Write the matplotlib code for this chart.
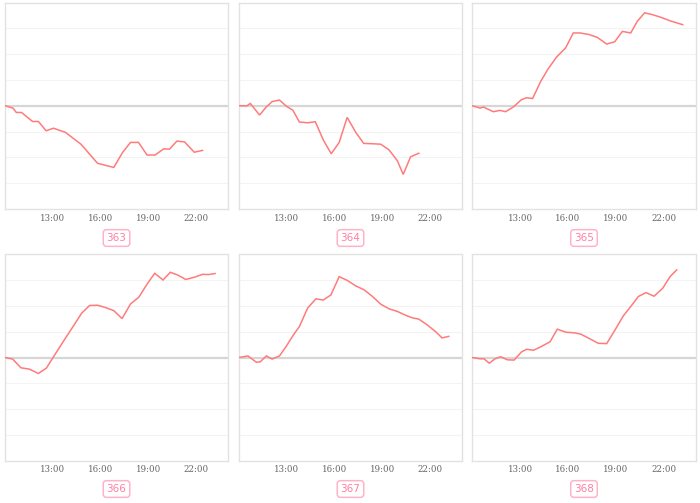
import matplotlib
matplotlib.use("Agg")
import matplotlib.pyplot as plt

# ---------------- data ----------------
panel_names = ["363", "364", "365", "366", "367", "368"]
tick_hours = [13, 16, 19, 22]
tick_labels = ["13:00", "16:00", "19:00", "22:00"]

t_363 = [10.0, 10.5, 10.71, 11.04, 11.73, 12.10, 12.58, 13.04, 13.79, 14.77, 15.81, 16.83,
         17.38, 17.88, 18.38, 18.92, 19.42, 19.96, 20.33, 20.79, 21.27, 21.88, 22.40]
v_363 = [0, -0.09, -0.26, -0.26, -0.61, -0.61, -0.97, -0.87, -1.03, -1.49, -2.23, -2.39,
         -1.81, -1.42, -1.42, -1.91, -1.91, -1.67, -1.68, -1.37, -1.40, -1.80, -1.73]

t_364 = [10.0, 10.5, 10.71, 11.29, 11.71, 12.08, 12.54, 13.0, 13.38, 13.79, 14.31, 14.79,
         15.29, 15.79, 16.29, 16.79, 17.33, 17.83, 18.33, 18.90, 19.42, 19.94, 20.31, 20.77, 21.29]
v_364 = [0, 0, 0.09, -0.36, -0.05, 0.16, 0.22, -0.03, -0.17, -0.63, -0.66, -0.62,
         -1.32, -1.86, -1.42, -0.45, -1.03, -1.46, -1.47, -1.49, -1.71, -2.13, -2.66, -1.98, -1.84]

t_365 = [10.0, 10.5, 10.71, 11.33, 11.75, 12.10, 12.58, 13.08, 13.40, 13.79, 14.29, 14.75,
         15.29, 15.85, 16.33, 16.75, 17.31, 17.83, 18.42, 18.92, 19.40, 19.92, 20.33, 20.79,
         21.27, 21.79, 22.38, 23.17]
v_365 = [0, -0.09, -0.05, -0.23, -0.18, -0.23, -0.05, 0.23, 0.31, 0.28, 0.94, 1.42,
         1.89, 2.24, 2.82, 2.82, 2.76, 2.65, 2.39, 2.48, 2.88, 2.82, 3.27, 3.60,
         3.53, 3.43, 3.29, 3.14]

t_366 = [10.0, 10.48, 11.0, 11.52, 12.10, 12.60, 13.15, 13.71, 14.27, 14.81, 15.31, 15.81,
         16.31, 16.83, 17.35, 17.88, 18.40, 18.92, 19.40, 19.92, 20.38, 20.85, 21.35, 21.90,
         22.40, 22.77, 23.19]
v_366 = [0, -0.06, -0.40, -0.45, -0.62, -0.41, 0.13, 0.67, 1.20, 1.72, 2.02, 2.03,
         1.94, 1.82, 1.51, 2.08, 2.34, 2.85, 3.27, 3.01, 3.31, 3.20, 3.03, 3.12,
         3.23, 3.22, 3.26]

t_367 = [10.0, 10.56, 11.08, 11.33, 11.71, 12.08, 12.54, 12.96, 13.42, 13.79, 14.31, 14.83,
         15.29, 15.77, 16.29, 16.81, 17.33, 17.85, 18.38, 18.90, 19.42, 19.94, 20.46, 20.88,
         21.29, 21.81, 22.33, 22.75, 23.17]
v_367 = [0, 0.06, -0.18, -0.17, 0.06, -0.06, 0.06, 0.43, 0.88, 1.20, 1.92, 2.28,
         2.23, 2.43, 3.14, 2.99, 2.78, 2.63, 2.37, 2.07, 1.89, 1.79, 1.64, 1.54,
         1.49, 1.27, 1.01, 0.76, 0.82]

t_368 = [10.0, 10.5, 10.75, 11.08, 11.44, 11.79, 12.21, 12.63, 13.10, 13.42, 13.83, 14.25,
         14.88, 15.33, 15.88, 16.38, 16.79, 17.38, 17.90, 18.42, 18.94, 19.46, 19.92, 20.40,
         20.88, 21.38, 21.92, 22.38, 22.79]
v_368 = [0, -0.05, -0.05, -0.22, -0.05, 0.03, -0.09, -0.10, 0.22, 0.32, 0.28, 0.40,
         0.61, 1.10, 0.98, 0.96, 0.91, 0.72, 0.55, 0.54, 1.07, 1.62, 1.98, 2.37,
         2.52, 2.38, 2.69, 3.14, 3.40]

times = [t_363, t_364, t_365, t_366, t_367, t_368]
values = [v_363, v_364, v_365, v_366, v_367, v_368]

# ---------------- layout ----------------
W, H = 700, 503
fig = plt.figure(figsize=(W / 100, H / 100), dpi=100)
fig.patch.set_facecolor("white")

col_x = [(5, 228), (239, 462), (472, 696)]
row_y = [(2.5, 209), (254.5, 460.5)]
label_y = [238, 489]

line_color = "#ff7b7b"

for i, name in enumerate(panel_names):
    r, c = divmod(i, 3)
    x0, x1 = col_x[c]
    y0, y1 = row_y[r]
    ax = fig.add_axes([x0 / W, (H - y1) / H, (x1 - x0) / W, (y1 - y0) / H])
    ax.set_xlim(10, 24)
    ax.set_ylim(-4, 4)
    for g in [-3, -2, -1, 1, 2, 3]:
        ax.axhline(g, color="#f3f3f3", lw=0.8, zorder=0)
    ax.axhline(0, color="#d6d6d6", lw=1.6, zorder=1)
    ax.plot(times[i], values[i], color=line_color, lw=1.1, zorder=3,
            solid_joinstyle="miter")
    ax.set_yticks([])
    ax.set_xticks(tick_hours)
    ax.set_xticklabels(tick_labels, fontsize=6.2, color="#666666",
                       family="DejaVu Serif")
    ax.tick_params(axis="x", length=0, pad=3.5)
    for s in ax.spines.values():
        s.set_color("#e2e2e2")
        s.set_linewidth(1.0)
    cx = (x0 + x1) / 2
    fig.text(cx / W, (H - label_y[r]) / H, name, ha="center", va="center",
             fontsize=7.5, color="#ff7fa6",
             bbox=dict(boxstyle="round,pad=0.32,rounding_size=0.3",
                       fc="white", ec="#ffb3c9", lw=1.1))

fig.savefig("out.png", dpi=100, facecolor="white")
